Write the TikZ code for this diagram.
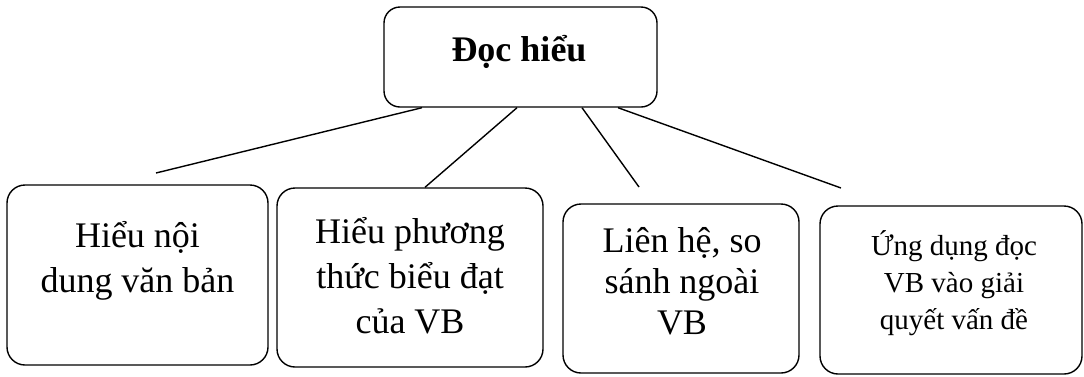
\documentclass[tikz,border=0pt]{standalone}
\usepackage{fontspec}
\setmainfont{Liberation Serif}
\usetikzlibrary{positioning}

\begin{document}
\begin{tikzpicture}[x=1pt, y=-1pt,
  frame/.style={draw, line width=1.4pt, rounded corners=18pt, inner sep=0pt},
  txt/.style={align=center, inner sep=0pt, font=\fontsize{36}{45}\selectfont},
  link/.style={line width=1.4pt}]
  \useasboundingbox (0,0) rectangle (1084,376);
  % boxes
  \node[frame, rounded corners=16pt, minimum width=273pt, minimum height=100pt] (doc) at (520.5,57) {};
  \node[frame, minimum width=261pt, minimum height=180pt] (noidung) at (137.5,275) {};
  \node[frame, minimum width=266pt, minimum height=179pt] (phuongthuc) at (410,277.5) {};
  \node[frame, minimum width=236pt, minimum height=169pt] (lienhe) at (681,288.5) {};
  \node[frame, minimum width=262pt, minimum height=168pt] (ungdung) at (951,290) {};
  % texts
  \node[txt, font=\bfseries\fontsize{36}{45}\selectfont] (doc-t) at (519,52) {Đọc hiểu};
  \node[txt] (noidung-t) at (137.5,260.5) {Hiểu nội\\dung văn bản};
  \node[txt] (phuongthuc-t) at (410,276) {Hiểu phương\\thức biểu đạt\\của VB};
  \node[txt, font=\fontsize{36}{41}\selectfont] (lienhe-t) at (682,281) {Liên hệ, so\\sánh ngoài\\VB};
  \node[txt, font=\fontsize{29}{37}\selectfont] (ungdung-t) at (954,283) {Ứng dụng đọc\\VB vào giải\\quyết vấn đề};
  % connectors
  \coordinate (e1) at (156,173);
  \coordinate (e3) at (639,187);
  \coordinate (e4) at (841,188);
  \draw[link] ([xshift=-98.5pt]doc.south) -- (e1);
  \draw[link] ([xshift=-3.5pt]doc.south) -- ([xshift=15pt]phuongthuc.north);
  \draw[link] ([xshift=61.5pt]doc.south) -- (e3);
  \draw[link] ([xshift=97.5pt]doc.south) -- (e4);
\end{tikzpicture}
\end{document}
